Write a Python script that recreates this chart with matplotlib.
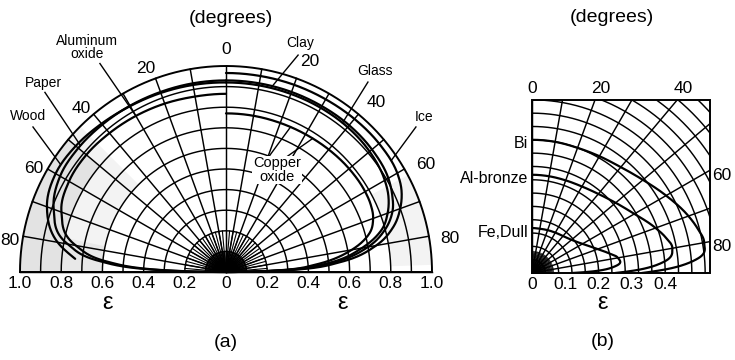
import matplotlib
matplotlib.use("Agg")
import matplotlib.pyplot as plt
import numpy as np
from matplotlib.patches import Rectangle, Polygon

plt.rcParams['font.family'] = ['Liberation Sans', 'DejaVu Sans']

# ---- data: directional emissivity vs polar angle (degrees) ----
# (a) nonconductors, left half
th_left = [0, 10, 20, 30, 40, 50, 60, 70, 80, 85, 88, 90]
alox = [0.865, 0.865, 0.87, 0.875, 0.88, 0.885, 0.88, 0.85, 0.74, 0.58, 0.35, 0.0]
paper = [0.93, 0.93, 0.93, 0.932, 0.934, 0.936, 0.93, 0.89, 0.78, 0.62, 0.38, 0.0]
th_wood = [0, 10, 20, 30, 40, 50, 60, 70, 80, 85]
wood = [0.92, 0.922, 0.925, 0.93, 0.94, 0.952, 0.955, 0.925, 0.83, 0.735]

# (a) nonconductors, right half
th_right = [0, 10, 20, 30, 40, 50, 60, 65, 70, 75, 80, 85, 88, 90]
ice = [0.966, 0.966, 0.967, 0.968, 0.97, 0.97, 0.96, 0.94, 0.9, 0.84, 0.74, 0.56, 0.35, 0.0]
clay = [0.93, 0.93, 0.93, 0.93, 0.93, 0.925, 0.91, 0.89, 0.86, 0.8, 0.7, 0.52, 0.32, 0.0]
glass = [0.92, 0.92, 0.92, 0.92, 0.918, 0.91, 0.89, 0.87, 0.835, 0.78, 0.67, 0.5, 0.3, 0.0]
cuox = [0.77, 0.77, 0.77, 0.772, 0.776, 0.78, 0.78, 0.775, 0.76, 0.72, 0.62, 0.45, 0.28, 0.0]

# (b) metals
th_b = [0, 10, 20, 30, 40, 50, 60, 70, 75, 80, 85, 88, 90]
bi = [0.40, 0.40, 0.40, 0.405, 0.415, 0.435, 0.465, 0.50, 0.515, 0.525, 0.50, 0.42, 0.33]
albronze = [0.295, 0.295, 0.296, 0.30, 0.31, 0.328, 0.355, 0.395, 0.415, 0.428, 0.40, 0.33, 0.25]
fedull = [0.135, 0.135, 0.137, 0.14, 0.145, 0.155, 0.175, 0.21, 0.235, 0.262, 0.255, 0.2, 0.12]

ticks_a = [1.0, 0.8, 0.6, 0.4, 0.2, 0, 0.2, 0.4, 0.6, 0.8, 1.0]
ticks_b = [0, 0.1, 0.2, 0.3, 0.4]
angle_labels = [0, 20, 40, 60, 80]


def smooth(th, r, n=600):
    th = np.asarray(th, float)
    r = np.asarray(r, float)
    t = np.linspace(th[0], th[-1], n)
    m = np.gradient(r, th)
    i = np.clip(np.searchsorted(th, t, side='right') - 1, 0, len(th) - 2)
    h = th[i + 1] - th[i]
    s = (t - th[i]) / h
    rr = ((2*s**3 - 3*s**2 + 1) * r[i] + (s**3 - 2*s**2 + s) * h * m[i]
          + (-2*s**3 + 3*s**2) * r[i + 1] + (s**3 - s**2) * h * m[i + 1])
    return t, rr


def xy(th, r, side=1):
    a = np.radians(th)
    return side * np.asarray(r) * np.sin(a), np.asarray(r) * np.cos(a)


def on_curve(th, r, ang, side):
    t, rr = smooth(th, r)
    return xy(ang, np.interp(ang, t, rr), side)


fig = plt.figure(figsize=(7.35, 3.6), dpi=100)

# ================= panel (a) =================
ax = fig.add_axes([0, 0, 470 / 735, 1])
ax.set_xlim(-226 / 206, 244 / 206)
ax.set_ylim(-88 / 206, 272 / 206)
ax.axis('off')

# faint shading of the scanned original
def sector(r0, r1, a0, a1, side, color):
    a = np.linspace(a0, a1, 60)
    xo, yo = xy(a, r1, side)
    xi, yi = xy(a[::-1], r0, side)
    ax.add_patch(Polygon(np.c_[np.r_[xo, xi], np.r_[yo, yi]], closed=True,
                         fc=color, ec='none', zorder=0))

sector(0.6, 1.0, 45, 90, -1, '#f3f3f3')
sector(0.8, 1.0, 50, 90, -1, '#e3e3e3')
sector(0.6, 0.8, 78, 90, -1, '#e8e8e8')
sector(0.8, 1.0, 62, 88, 1, '#f3f3f3')

full = np.linspace(-90, 90, 400)
gkw = dict(color='black', lw=1.05, zorder=2)
for r in np.arange(0.1, 0.95, 0.1):
    ax.plot(*xy(full, r), **gkw)
ax.plot(*xy(full, 1.0), color='black', lw=1.4, zorder=2)
ax.plot([-1, 1], [0, 0], color='black', lw=1.4, zorder=2)
for a in range(-90, 91, 10):
    ax.plot(*xy([a, a], [0, 1.0]), **gkw)
for a in np.arange(-90, 90.1, 5):
    ax.plot(*xy([a, a], [0, 0.2]), color='black', lw=0.8, zorder=2)
for a in np.arange(-90, 90.1, 2.5):
    ax.plot(*xy([a, a], [0, 0.1]), color='black', lw=0.6, zorder=2)

ckw = dict(color='black', lw=1.6, zorder=3, solid_capstyle='round')
for th, r, side in [(th_left, alox, -1), (th_left, paper, -1), (th_wood, wood, -1),
                    (th_right, ice, 1), (th_right, clay, 1), (th_right, glass, 1),
                    (th_right, cuox, 1)]:
    t, rr = smooth(th, r)
    ax.plot(*xy(t, rr, side), **ckw)

# angle labels
for a in angle_labels:
    sides = [1] if a == 0 else [-1, 1]
    for s in sides:
        rad = 1.08 if a == 0 else (1.06 if s < 0 else 1.1)
        x, y = xy(a + (1.6 if a else 0), rad, s)
        ax.text(x, y, str(a), ha='center', va='center', fontsize=12.5)
ax.text(0.024, 1.233, '(degrees)', ha='center', va='center', fontsize=14)

# epsilon axis
for v, s in zip(ticks_a, [-1] * 5 + [0] + [1] * 5):
    ax.text(s * v if s else 0, -0.058, f'{v:g}' if v == 0 else f'{v:.1f}',
            ha='center', va='center', fontsize=12.5)
for xe in (-0.575, 0.565):
    ax.text(xe, -0.15, 'ε', ha='center', va='center', fontsize=17)
ax.text(0.0, -0.34, '(a)', ha='center', va='center', fontsize=14)

# material labels with leaders
lbl_a = [
    ('Aluminum\noxide', (-0.675, 1.09), (-0.612, 1.012), th_left, alox, 30, -1),
    ('Paper', (-0.888, 0.917), (-0.879, 0.872), th_left, paper, 49, -1),
    ('Wood', (-0.961, 0.757), (-0.937, 0.704), th_wood, wood, 57, -1),
    ('Clay', (0.359, 1.112), (0.35, 1.053), th_right, clay, 14, 1),
    ('Glass', (0.723, 0.976), (0.689, 0.922), th_right, glass, 38, 1),
    ('Ice', (0.961, 0.752), (0.922, 0.704), th_right, ice, 56, 1),
]
for txt, pos, start, th, r, ang, side in lbl_a:
    ax.text(*pos, txt, ha='center', va='center', fontsize=10,
            linespacing=0.95)
    ex, ey = on_curve(th, r, ang, side)
    ax.plot([start[0], ex], [start[1], ey], color='black', lw=1.0, zorder=3)
ax.text(0.248, 0.495, 'Copper\noxide', ha='center', va='center', fontsize=10.5,
        linespacing=0.95, zorder=4,
        bbox=dict(fc='white', ec='none', pad=0.5))
for sx, ang in [(0.205, 24), (0.29, 33)]:
    ex, ey = on_curve(th_right, cuox, ang, 1)
    ax.plot([sx, ex], [0.556, ey], color='black', lw=1.0, zorder=3)

# ================= panel (b) =================
bx = fig.add_axes([470 / 735, 0, 265 / 735, 1])
bx.set_xlim(-62 / 333, 203 / 333)
bx.set_ylim(-87 / 333, 273 / 333)
bx.axis('off')
W, H = 0.535, 0.52
box = Rectangle((0, 0), W, H, fc='none', ec='black', lw=1.4, zorder=4)
bx.add_patch(box)
clip = Rectangle((0, 0), W, H, transform=bx.transData)

quarter = np.linspace(0, 90, 300)
for r in np.arange(0.04, 0.76, 0.04):
    ln, = bx.plot(*xy(quarter, r), color='black', lw=1.05, zorder=2)
    ln.set_clip_path(clip)
for a in range(0, 91, 10):
    ln, = bx.plot(*xy([a, a], [0, 0.8]), color='black', lw=1.05, zorder=2)
    ln.set_clip_path(clip)
for a in np.arange(0, 90.1, 2.5):
    bx.plot(*xy([a, a], [0, 0.065]), color='black', lw=0.6, zorder=2)

for th, r in [(th_b, bi), (th_b, albronze), (th_b, fedull)]:
    t, rr = smooth(th, r)
    ln, = bx.plot(*xy(t, rr), **ckw)
    ln.set_clip_path(clip)

for txt, r0 in [('Bi', bi[0]), ('Al-bronze', albronze[0]), ('Fe,Dull', fedull[0])]:
    bx.text(-0.012, r0 - 0.012, txt, ha='right', va='center', fontsize=11.5)

for a in angle_labels:
    t = np.tan(np.radians(a))
    if H * t <= W:
        bx.text(H * t + 0.018 * (a > 0), H + 0.034, str(a), ha='center',
                va='center', fontsize=12.5)
    else:
        bx.text(W + 0.036, W / t - 0.015, str(a), ha='center', va='center',
                fontsize=12.5)
bx.text(0.24, 0.766, '(degrees)', ha='center', va='center', fontsize=14)
for v in ticks_b:
    bx.text(v, -0.035, f'{v:g}', ha='center', va='center', fontsize=12.5)
bx.text(0.213, -0.09, 'ε', ha='center', va='center', fontsize=17)
bx.text(0.213, -0.207, '(b)', ha='center', va='center', fontsize=14)

fig.savefig('out.png', dpi=100)
